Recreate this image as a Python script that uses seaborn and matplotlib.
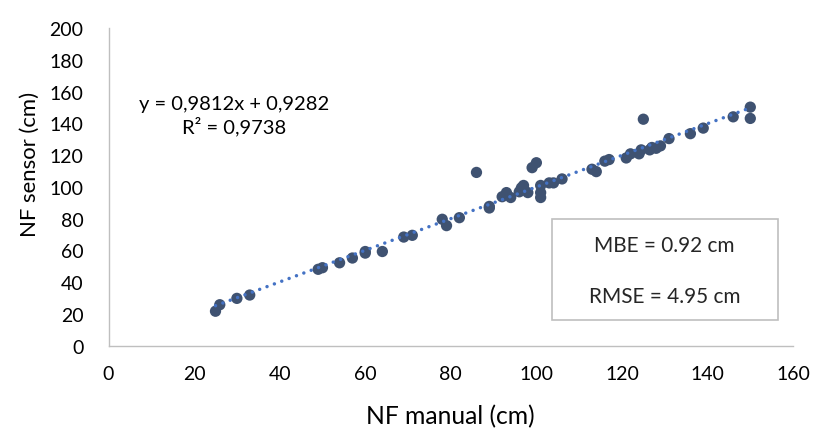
import numpy as np
import pandas as pd
import matplotlib
matplotlib.use("Agg")
import matplotlib.pyplot as plt
import seaborn as sns
from matplotlib.patches import Rectangle

nf_manual = [25, 26, 30, 33, 49, 50, 54, 57, 60, 60, 64, 69, 71, 78, 79, 82, 86,
             89, 89, 92, 93, 94, 96, 96.5, 97, 98, 99, 100, 101, 101, 101, 103, 104, 106,
             113, 114, 116, 117, 121, 122, 124, 124.5, 125, 126.5, 127, 128, 129, 131,
             136, 139, 146, 150, 150]
nf_sensor = [21.7, 25.8, 29.8, 31.9, 48.1, 49.1, 52.2, 55.2, 58.3, 59.3, 59.3, 68.4, 69.5,
             79.6, 75.6, 80.6, 109.1, 87.7, 86.7, 93.8, 96.4, 93.3, 96.9, 99.4, 100.9, 96.4,
             112.1, 115.2, 96.4, 100.9, 93.3, 102.5, 102.5, 105.0, 111.1, 109.6, 116.2, 117.2,
             118.2, 120.8, 120.8, 123.3, 142.6, 123.3, 124.8, 124.3, 125.8, 130.4, 133.5,
             137.0, 144.1, 150.2, 143.1]
equation_text = "y = 0,9812x + 0,9282\nR² = 0,9738"
mbe_text = "MBE = 0.92 cm"
rmse_text = "RMSE = 4.95 cm"
x_ticks = [0, 20, 40, 60, 80, 100, 120, 140, 160]
y_ticks = [0, 20, 40, 60, 80, 100, 120, 140, 160, 180, 200]

df = pd.DataFrame({"NF manual (cm)": nf_manual, "NF sensor (cm)": nf_sensor})

sns.set_theme(style="white")
plt.rcParams['font.family'] = ['Lato', 'DejaVu Sans']

fig = plt.figure(figsize=(8.13, 4.31), dpi=100)
ax = fig.add_axes([0.1335, 0.1956, 0.842, 0.737])

sns.scatterplot(data=df, x="NF manual (cm)", y="NF sensor (cm)", ax=ax,
                color="#3F5271", s=66, edgecolor="none", zorder=2)
sns.regplot(data=df, x="NF manual (cm)", y="NF sensor (cm)", ax=ax, ci=None,
            truncate=True, scatter=False,
            line_kws=dict(color="#4472C4", linestyle=(0, (0.01, 2.25)), linewidth=2.5,
                          dash_capstyle="round", zorder=3))

ax.set_xlim(0, 160)
ax.set_ylim(0, 200)
ax.set_xticks(x_ticks)
ax.set_yticks(y_ticks)
ax.tick_params(axis="x", labelsize=15, colors="#000000", length=0, pad=14)
ax.tick_params(axis="y", labelsize=15, colors="#000000", length=0, pad=18)
for s in ["top", "right"]:
    ax.spines[s].set_visible(False)
for s in ["left", "bottom"]:
    ax.spines[s].set_color("#BFBFBF")
    ax.spines[s].set_linewidth(1.0)
ax.set_xlabel("NF manual (cm)", fontsize=17, color="#000000")
ax.set_ylabel("NF sensor (cm)", fontsize=17, color="#000000")
ax.xaxis.label.set_va("center")
ax.yaxis.label.set_va("center")
ax.xaxis.set_label_coords(0.5, -0.2199)
ax.yaxis.set_label_coords(-0.1147, 0.575)

eq = ax.text(29.4, 145, equation_text, ha="center", va="center", fontsize=13.5,
             linespacing=1.25, color="#000000")

box = Rectangle((103.6, 16.4), 52.8, 63.1, transform=ax.transData, fill=True,
                facecolor="white", edgecolor="#BFBFBF", linewidth=1.2, zorder=3)
ax.add_patch(box)
t_mbe = ax.text(130, 63.7, mbe_text, ha="center", va="center", fontsize=15, zorder=4)
t_rmse = ax.text(130, 31, rmse_text, ha="center", va="center", fontsize=15, zorder=4)

# scale font sizes so text widths match the reference layout
fig.canvas.draw()
r = fig.canvas.get_renderer()

def fit_width(t, target, use_height=False):
    bb = t.get_window_extent(renderer=r)
    w = bb.height if use_height else bb.width
    return t.get_fontsize() * target / w

tick100 = [t for t in ax.get_xticklabels() if t.get_text() == "100"][0]
tsize = fit_width(tick100, 34)
ax.tick_params(axis="both", labelsize=tsize)
ax.xaxis.label.set_fontsize(fit_width(ax.xaxis.label, 168))
ax.yaxis.label.set_fontsize(fit_width(ax.yaxis.label, 145, use_height=True))
msize = fit_width(t_mbe, 141)
t_mbe.set_fontsize(msize)
t_rmse.set_fontsize(msize)
eq.set_fontsize(fit_width(eq, 190))

fig.savefig("out.png", dpi=100)
